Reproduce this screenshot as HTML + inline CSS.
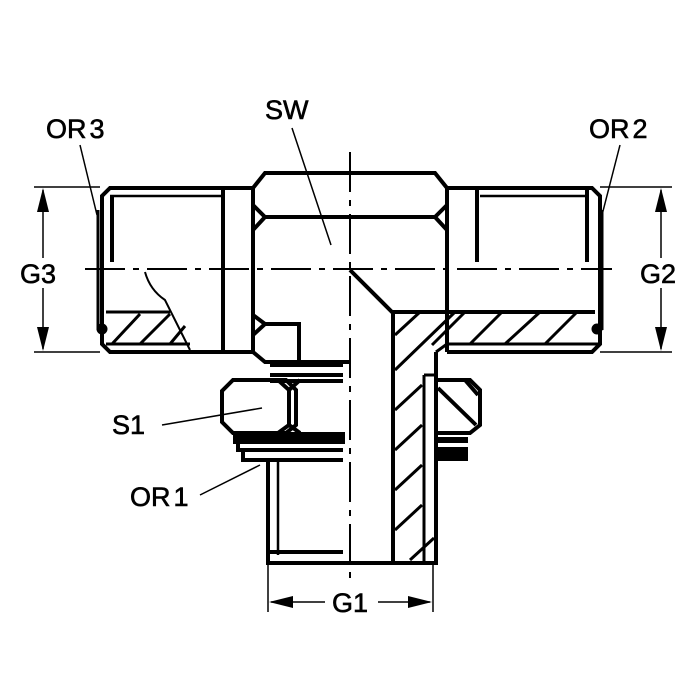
<!DOCTYPE html>
<html><head><meta charset="utf-8"><style>
html,body{margin:0;padding:0;background:#fff;width:700px;height:700px;overflow:hidden}
text{font-family:"Liberation Sans",sans-serif;font-size:27px;fill:#000;stroke:#000;stroke-width:0.6}
</style></head><body>
<svg width="700" height="700" viewBox="0 0 700 700" xmlns="http://www.w3.org/2000/svg">
<g fill="none" stroke="#000" stroke-linecap="butt">
<g stroke-width="1.5">
<line x1="34" y1="187" x2="100" y2="187"/><line x1="34" y1="352" x2="100" y2="352"/>
<line x1="600" y1="187" x2="672" y2="187"/><line x1="600" y1="352" x2="672" y2="352"/>
<line x1="43" y1="190" x2="43" y2="258"/><line x1="43" y1="288" x2="43" y2="349"/>
<line x1="661" y1="190" x2="661" y2="258"/><line x1="661" y1="288" x2="661" y2="349"/>
<line x1="268" y1="565" x2="268" y2="612"/><line x1="433" y1="565" x2="433" y2="612"/>
<line x1="271" y1="602" x2="325" y2="602"/><line x1="378" y1="602" x2="430" y2="602"/>
<line x1="80" y1="145" x2="97" y2="215"/>
<line x1="292" y1="128" x2="331" y2="245"/>
<line x1="620" y1="145" x2="602" y2="215"/>
<line x1="162" y1="425" x2="262" y2="408"/>
<line x1="200" y1="495" x2="260" y2="465"/>
</g>
<g fill="#000" stroke="none">
<path d="M43,188 L37,212 L49,212Z"/><path d="M43,351 L37,327 L49,327Z"/>
<path d="M661,188 L655,212 L667,212Z"/><path d="M661,351 L655,327 L667,327Z"/>
<path d="M269,602 L293,596 L293,608Z"/><path d="M432,602 L408,596 L408,608Z"/>
</g>
<g stroke-width="2" stroke-dasharray="40,8,6,8">
<line x1="85" y1="269" x2="612" y2="269"/>
<line x1="350" y1="152" x2="350" y2="585"/>
</g>
<g stroke-width="4">
<path d="M253,188 L110,188 L102,196 L102,344 L110,352 L253,352"/>
<line x1="110" y1="196" x2="223" y2="196" stroke-width="2.5"/>
<line x1="112" y1="196" x2="112" y2="262"/>
<line x1="223" y1="188" x2="223" y2="352"/>
<line x1="106" y1="312" x2="170" y2="312" stroke-width="3"/>
<line x1="106" y1="344" x2="190" y2="344" stroke-width="3"/>
<path d="M253,188 L265,173 L435,173 L447,188 L447,352"/>
<line x1="253" y1="188" x2="253" y2="352"/>
<path d="M265,217 L435,217 M253,205 L265,217 L253,230 M447,205 L435,217 L447,230"/>
<path d="M253,315 L265,324 L299,324 L299,362 M253,335 L265,324"/>
<path d="M253,352 L265,362 L350,362"/>
<path d="M447,188 L592,188 L600,196 L600,344 L592,352 L447,352"/>
<line x1="477" y1="190" x2="477" y2="262"/><line x1="447" y1="190" x2="447" y2="262"/>
<line x1="587" y1="190" x2="587" y2="262"/>
<line x1="480" y1="196" x2="587" y2="196" stroke-width="2.5"/>
<path d="M350,270 L392,312 L595,312"/>
<path d="M600,344 L447,344 L436,352" stroke-width="3"/>
<line x1="393" y1="312" x2="393" y2="563"/>
<path d="M436,352 L436,563 L268,563 L268,462"/>
<line x1="424" y1="375" x2="424" y2="563" stroke-width="3"/>
<line x1="424" y1="375" x2="436" y2="375" stroke-width="3"/>
<line x1="278" y1="462" x2="278" y2="555" stroke-width="2.5"/>
<line x1="270" y1="552" x2="343" y2="552"/>
<line x1="270" y1="365" x2="343" y2="365"/>
<line x1="270" y1="375" x2="343" y2="375"/>
<line x1="270" y1="381" x2="343" y2="381"/>
<path d="M233,380 L286,380 L296,390 L296,425 L286,433 L233,433 L222,422 L222,391Z"/>
<path d="M278,380 L289,390 L289,425 L278,433 M300,380 L289,390 M300,433 L289,425"/>
<rect x="235" y="434" width="108" height="8" fill="#000"/>
<path d="M238,443 L238,450 L343,450" />
<path d="M243,450 L243,460 L343,460"/>
<path d="M436,380 L470,380 L480,390 L480,425 L470,433 L436,433"/>
<path d="M438,388 L476,425 M465,380 L478,395"/>
<g fill="#000" stroke="none"><rect x="438" y="437" width="30" height="6"/><rect x="438" y="447" width="30" height="14"/></g>
<line x1="98" y1="210" x2="98" y2="330" stroke-width="3"/>
<line x1="602" y1="210" x2="602" y2="330" stroke-width="3"/>
</g>
<g fill="#000"><circle cx="102" cy="329" r="5"/><circle cx="597" cy="329" r="5"/></g>
<g stroke-width="3">
<line x1="112" y1="344" x2="140" y2="314"/><line x1="140" y1="344" x2="170" y2="314"/><line x1="170" y1="344" x2="185" y2="326"/>
<path d="M145,272 Q150,290 165,300 Q175,320 190,350" stroke-width="2"/>
<line x1="395" y1="335" x2="420" y2="312"/><line x1="395" y1="370" x2="455" y2="312"/>
<line x1="432" y1="345" x2="465" y2="312"/><line x1="470" y1="344" x2="502" y2="312"/><line x1="505" y1="344" x2="540" y2="312"/><line x1="545" y1="344" x2="577" y2="312"/>
<line x1="395" y1="410" x2="422" y2="385"/><line x1="395" y1="450" x2="422" y2="425"/><line x1="395" y1="490" x2="422" y2="465"/><line x1="395" y1="530" x2="422" y2="505"/><line x1="410" y1="560" x2="434" y2="538"/>
</g>
</g>
<text x="265" y="119">SW</text>
<text x="46" y="138">OR<tspan dx="3">3</tspan></text>
<text x="589" y="138">OR<tspan dx="3">2</tspan></text>
<text x="20" y="283">G3</text>
<text x="640" y="283">G2</text>
<text x="112" y="434">S1</text>
<text x="130" y="506">OR<tspan dx="3">1</tspan></text>
<text x="332" y="612">G1</text>
</svg>
</body></html>
